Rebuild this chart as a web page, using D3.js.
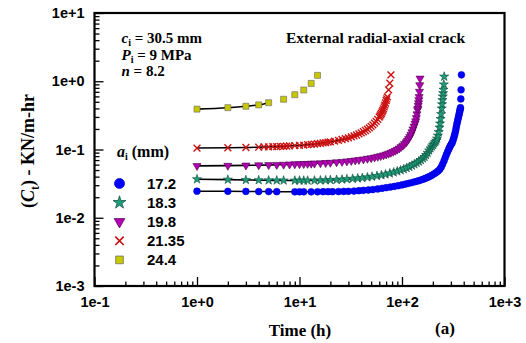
<!DOCTYPE html>
<html>
<head>
<meta charset="utf-8">
<script src="https://cdn.jsdelivr.net/npm/d3@7"></script>
<style>
    body { margin: 0; background: #fff; }
    svg { display: block; }
</style>
</head>
<body>
<div id="container"></div>
<script>
// crack sizes a_i (mm)
const sizes = ['17.2', '18.3', '19.8', '21.35', '24.4'];

// time (h) and C_t (KN/m-hr)
const time172 = [1, 2, 3, 4, 5, 6, 9, 10, 11, 13, 15, 17, 19, 21, 24, 27, 30, 34, 38, 42, 47, 52, 58, 64, 70, 77, 84, 92, 100,
    108, 116, 125, 134, 143, 152, 161, 170, 179, 188, 197, 206, 215, 224, 233, 241, 249, 257, 264, 271, 278, 285, 291, 297, 303, 309,
    314, 319, 324, 329, 334, 338, 342, 346, 350, 354, 358, 361, 364, 367, 370, 372, 375, 377, 380];
const ct172 = [0.0245, 0.0244, 0.0243, 0.0242, 0.0242, 0.0241, 0.0240, 0.0240, 0.0240, 0.0240, 0.0240, 0.0241, 0.0241, 0.0241,
    0.0242, 0.0243, 0.0244, 0.0246, 0.0249, 0.0252, 0.0255, 0.0259, 0.0264, 0.0270, 0.0276, 0.0282, 0.0288, 0.0295, 0.0303,
    0.0311, 0.0319, 0.0328, 0.0337, 0.0346, 0.0356, 0.0367, 0.0379, 0.0392, 0.0406, 0.0422, 0.0440, 0.0460, 0.0482, 0.0510,
    0.0550, 0.0610, 0.0680, 0.0760, 0.0840, 0.0920, 0.1000, 0.1070, 0.1140, 0.1200, 0.1260,
    0.1350, 0.1460, 0.1580, 0.1720, 0.1900, 0.2100, 0.2300, 0.2500, 0.2700, 0.2900, 0.3100,
    0.3300, 0.3500, 0.3700, 0.3900, 0.4100, 0.5500, 0.7500, 1.2400];

const time183 = [1, 2, 3, 4, 5, 6, 7, 9, 10, 11, 12, 14, 16, 18, 20, 23, 26, 29, 33, 37, 41, 46, 51, 57, 63, 69,
    76, 83, 90, 97, 104, 111, 118, 125, 132, 139, 146, 153, 160, 166, 172, 178, 184, 190, 196, 201, 206, 211, 216,
    220, 224, 228, 232, 235, 238, 241, 244, 246, 248, 250, 252, 254, 256, 258];
const ct183 = [0.0367, 0.0362, 0.0358, 0.0356, 0.0354, 0.0353, 0.0352, 0.0351, 0.0351, 0.0351, 0.0351, 0.0352, 0.0353, 0.0355,
    0.0357, 0.0360, 0.0364, 0.0368, 0.0373, 0.0378, 0.0384, 0.0392, 0.0400, 0.0410, 0.0421, 0.0433,
    0.0448, 0.0463, 0.0480, 0.0497, 0.0516, 0.0536, 0.0558, 0.0582, 0.0608, 0.0636, 0.0666, 0.0700, 0.0740,
    0.0780, 0.0830, 0.0890, 0.0970, 0.1040, 0.1110, 0.1170, 0.1230, 0.1290, 0.1350,
    0.1450, 0.1600, 0.1800, 0.2100, 0.2400, 0.2800, 0.3300, 0.4000, 0.4600, 0.5300, 0.6000, 0.6700, 0.7500, 0.9000, 1.1700];

const time198 = [1, 2, 3, 4, 5, 6, 7, 8, 9, 10, 11, 12, 13, 14, 16, 18, 20, 23, 26, 29, 32, 35, 38,
    42, 46, 50, 54, 58, 62, 66, 70, 74, 78, 82, 86, 90, 94, 98, 102, 106, 110,
    113, 116, 119, 122, 125, 128, 131, 134, 136, 138, 140, 142, 143, 144, 145, 146, 147, 148, 149, 150];
const ct198 = [0.0575, 0.0580, 0.0585, 0.0590, 0.0594, 0.0598, 0.0602, 0.0606, 0.0610, 0.0613, 0.0616, 0.0619, 0.0622, 0.0625,
    0.0630, 0.0636, 0.0642, 0.0652, 0.0662, 0.0672, 0.0683, 0.0694, 0.0706,
    0.0720, 0.0735, 0.0750, 0.0767, 0.0785, 0.0804, 0.0825, 0.0848, 0.0873, 0.0900, 0.0930, 0.0963, 0.1000, 0.1040, 0.1090, 0.1145, 0.1210, 0.1280,
    0.1350, 0.1430, 0.1530, 0.1650, 0.1800, 0.1980, 0.2180, 0.2400, 0.2600, 0.2900, 0.3300, 0.3800,
    0.4000, 0.4400, 0.4800, 0.5300, 0.5900, 0.7050, 0.8800, 1.1000];

const time2135 = [1, 2, 3, 4, 4.5, 5, 5.5, 6, 6.5, 7, 7.5, 8, 9, 10, 11, 12, 13, 14, 15, 16, 17, 18, 19, 20,
    22, 24, 26, 28, 30, 32, 34, 36, 38, 40, 42, 44, 46, 48, 50, 52, 54, 56, 58, 60,
    61, 62, 63, 64, 65, 66, 67, 68, 69, 70, 71, 72, 74, 76, 78];
const ct2135 = [0.105, 0.106, 0.107, 0.108, 0.109, 0.109, 0.110, 0.110, 0.111, 0.111, 0.112, 0.113,
    0.114, 0.115, 0.116, 0.118, 0.119, 0.120, 0.122, 0.123, 0.125, 0.126, 0.128, 0.129,
    0.133, 0.136, 0.140, 0.144, 0.148, 0.153, 0.158, 0.163, 0.169, 0.175, 0.182, 0.190, 0.198, 0.207, 0.218, 0.230, 0.244, 0.259, 0.277, 0.298,
    0.310, 0.324, 0.339, 0.355, 0.374, 0.395, 0.420, 0.447, 0.480, 0.520, 0.550, 0.590, 0.746, 0.935, 1.24];

const time244 = [1, 2, 3, 4, 5, 7, 9, 11, 13, 15];
const ct244 = [0.39, 0.41, 0.43, 0.45, 0.485, 0.545, 0.635, 0.745, 0.93, 1.22];

const xMajor = [0.1, 1, 10, 100, 1000];
const yMajor = [0.001, 0.01, 0.1, 1, 10];

const width = 526;
const height = 343;
const plot = {left: 94.5, right: 504.5, top: 13, bottom: 286};

const sans = '"Liberation Sans", Arial, sans-serif';
const serif = '"Liberation Serif", "Times New Roman", serif';

const series = [
    {name: sizes[0], t: time172, c: ct172, fill: '#0000ff', stroke: '#0000c8', shape: d3.symbolCircle, size: 36, legSize: 80, rot: 0, lineTo: 372},
    {name: sizes[1], t: time183, c: ct183, fill: '#1f9c7a', stroke: '#0b4d3b', shape: d3.symbolStar, size: 26, legSize: 52, rot: 0, lineTo: 246},
    {name: sizes[2], t: time198, c: ct198, fill: '#b400b4', stroke: '#4a004a', shape: d3.symbolTriangle, size: 28, legSize: 50, rot: 180, lineTo: 145},
    {name: sizes[3], t: time2135, c: ct2135, fill: 'none', stroke: '#cc1111', shape: d3.symbolTimes || d3.symbolX, size: 32, legSize: 48, rot: 0, lineTo: 71, stroked: true},
    {name: sizes[4], t: time244, c: ct244, fill: '#c8c800', stroke: '#666666', shape: d3.symbolSquare, size: 36, legSize: 60, rot: 0, lineTo: 5},
];

const x = d3.scaleLog().domain([0.1, 1000]).range([plot.left, plot.right]);
const y = d3.scaleLog().domain([0.001, 10]).range([plot.bottom, plot.top]);

const fmt = (d) => {
    const e = Math.round(Math.log10(d));
    return '1e' + (e < 0 ? '-' : '+') + Math.abs(e);
};

const svg = d3.select('#container').append('svg')
    .attr('width', width)
    .attr('height', height);

// fitted black lines, under the markers
const line = d3.line()
    .x((d) => x(d.t))
    .y((d) => y(d.c))
    .curve(d3.curveMonotoneX);

series.forEach((s) => {
    const pts = s.t.map((t, i) => ({t: t, c: s.c[i]}));
    s.points = pts;
    svg.append('path')
        .datum(pts.filter((d) => d.t <= s.lineTo))
        .attr('d', line)
        .style('fill', 'none')
        .style('stroke', '#000')
        .style('stroke-width', 1.6);
});

series.forEach((s) => {
    svg.append('g').selectAll('path').data(s.points).join('path')
        .attr('transform', (d) => `translate(${x(d.t)} ${y(d.c)}) rotate(${s.rot})`)
        .attr('d', d3.symbol(s.shape, s.size))
        .style('fill', s.fill)
        .style('stroke', s.stroke)
        .style('stroke-width', s.stroked ? 1.4 : 0.6);
});

// axes, ticks inside
const xMinor = x.ticks().filter((d) => xMajor.indexOf(d) < 0);
const yMinor = y.ticks().filter((d) => yMajor.indexOf(d) < 0);

const styleAxis = (g) => {
    g.select('.domain').remove();
    g.selectAll('line').style('stroke-width', 1.3);
    g.selectAll('text')
        .style('font-family', sans)
        .style('font-weight', 'bold')
        .style('font-size', '14.5px')
        .style('fill', '#000');
};

svg.append('g').attr('transform', `translate(0 ${plot.bottom})`)
    .call(d3.axisBottom(x).tickValues(xMajor).tickFormat(fmt).tickSizeInner(-9).tickSizeOuter(0).tickPadding(11))
    .call(styleAxis);
svg.append('g').attr('transform', `translate(0 ${plot.bottom})`)
    .call(d3.axisBottom(x).tickValues(xMinor).tickFormat('').tickSizeInner(-4.5).tickSizeOuter(0))
    .call(styleAxis);
svg.append('g').attr('transform', `translate(${plot.left} 0)`)
    .call(d3.axisLeft(y).tickValues(yMajor).tickFormat(fmt).tickSizeInner(-9).tickSizeOuter(0).tickPadding(10))
    .call(styleAxis);
svg.append('g').attr('transform', `translate(${plot.left} 0)`)
    .call(d3.axisLeft(y).tickValues(yMinor).tickFormat('').tickSizeInner(-5).tickSizeOuter(0))
    .call(styleAxis);

svg.append('rect')
    .attr('x', plot.left)
    .attr('y', plot.top)
    .attr('width', plot.right - plot.left)
    .attr('height', plot.bottom - plot.top)
    .style('fill', 'none')
    .style('stroke', '#000')
    .style('stroke-width', 2.2);

// axis titles
svg.append('text')
    .attr('x', 300)
    .attr('y', 336)
    .attr('text-anchor', 'middle')
    .style('font-family', serif)
    .style('font-weight', 'bold')
    .style('font-size', '17px')
    .text('Time (h)');

svg.append('text')
    .attr('x', 445)
    .attr('y', 334)
    .attr('text-anchor', 'middle')
    .style('font-family', serif)
    .style('font-weight', 'bold')
    .style('font-size', '17px')
    .text('(a)');

const ylab = svg.append('text')
    .attr('transform', 'translate(34 151) rotate(-90)')
    .attr('text-anchor', 'middle')
    .style('font-family', serif)
    .style('font-weight', 'bold')
    .style('font-size', '18px');
ylab.append('tspan').text('(');
ylab.append('tspan').style('font-style', 'italic').text('C');
ylab.append('tspan').attr('dy', 5).style('font-size', '12px').text('t');
ylab.append('tspan').attr('dy', -5).text(') - KN/m-hr');

// annotations
const note = (xx, yy, main, sub, rest) => {
    const t = svg.append('text')
        .attr('x', xx)
        .attr('y', yy)
        .style('font-family', serif)
        .style('font-weight', 'bold')
        .style('font-size', '15px');
    t.append('tspan').style('font-style', 'italic').text(main);
    if (sub) t.append('tspan').attr('dy', 3).style('font-size', '10px').text(sub);
    t.append('tspan').attr('dy', sub ? -3 : 0).text(rest);
    return t;
};
note(121.5, 42.5, 'c', 'i', ' = 30.5 mm');
note(121.5, 59.5, 'P', 'i', ' = 9 MPa');
note(121.5, 76, 'n', '', '  =  8.2');

svg.append('text')
    .attr('x', 286)
    .attr('y', 42.5)
    .style('font-family', serif)
    .style('font-weight', 'bold')
    .style('font-size', '15.5px')
    .text('External radial-axial crack');

// legend
note(117, 157, 'a', 'i', ' (mm)').style('font-size', '16px');

const legend = svg.append('g').selectAll('g').data(series).join('g')
    .attr('transform', (d, i) => `translate(119.5 ${183.5 + i * 19.1})`);

legend.append('path')
    .attr('transform', (d) => `rotate(${d.rot})`)
    .attr('d', (d) => d3.symbol(d.shape, d.legSize)())
    .style('fill', (d) => d.fill)
    .style('stroke', (d) => d.stroke)
    .style('stroke-width', (d) => d.stroked ? 1.7 : 0.7);

legend.append('text')
    .attr('x', 27.5)
    .attr('dy', '0.36em')
    .style('font-family', sans)
    .style('font-weight', 'bold')
    .style('font-size', '15px')
    .text((d) => d.name);
</script>
</body>
</html>
